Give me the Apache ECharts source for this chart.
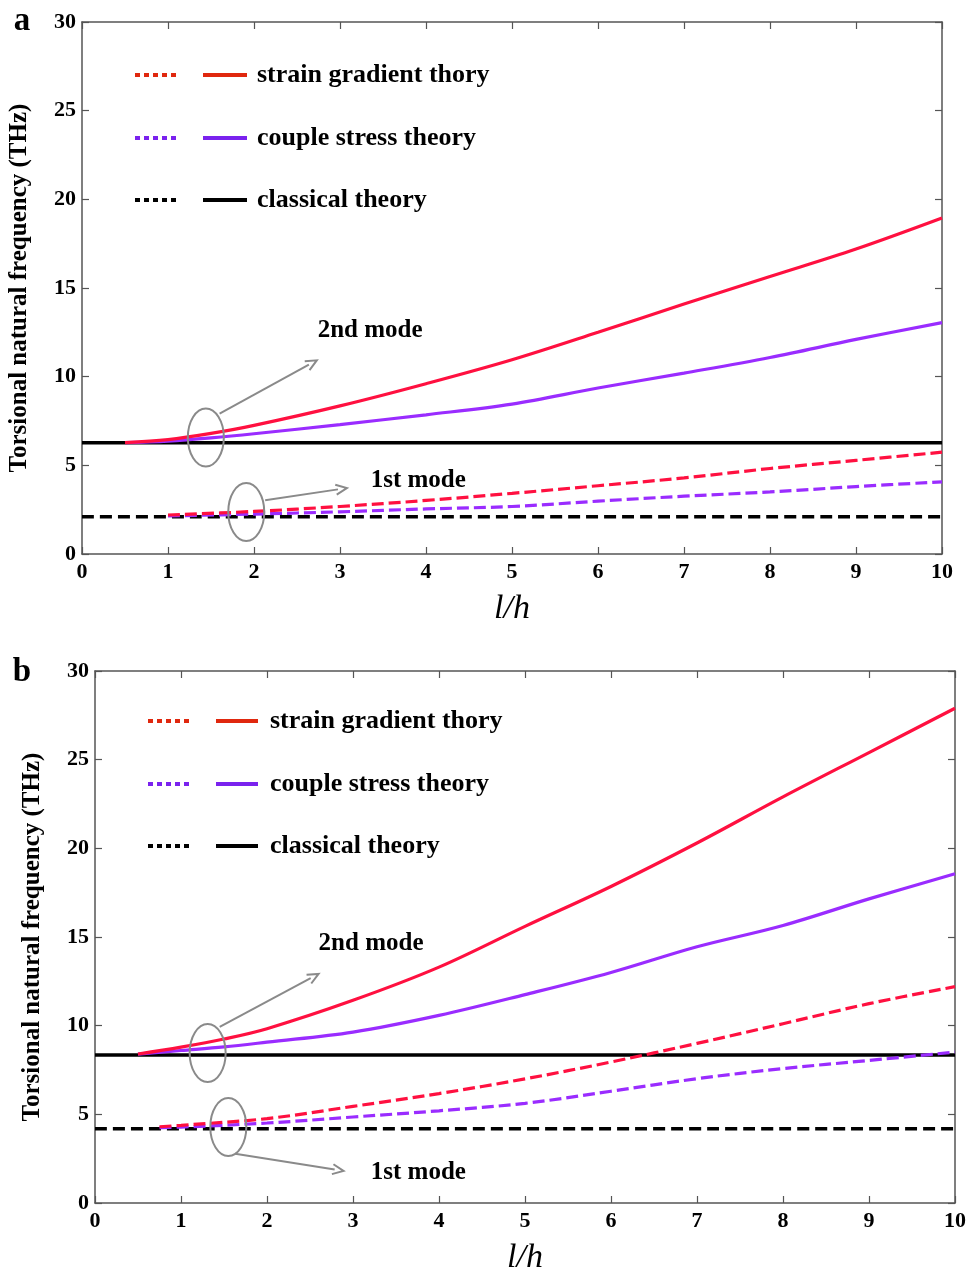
<!DOCTYPE html>
<html>
<head>
<meta charset="utf-8">
<script src="https://cdn.jsdelivr.net/npm/echarts@6/dist/echarts.min.js"></script>
<style>
  html, body { margin: 0; padding: 0; background: #fff; }
  #chart { width: 973px; height: 1267px; }
</style>
</head>
<body>
<div id="chart"></div>
<script>
// ---------------- DATA ----------------
// Panel a
const xA2 = [0.5, 1, 1.5, 2, 3, 4, 5, 6, 7, 8, 9, 10];
const sgA2 = [6.28, 6.45, 6.8, 7.25, 8.35, 9.6, 10.95, 12.5, 14.1, 15.65, 17.2, 18.95];
const csA2 = [6.28, 6.37, 6.55, 6.78, 7.3, 7.85, 8.45, 9.36, 10.2, 11.08, 12.1, 13.05];
const xA1 = [1, 2, 3, 4, 5, 6, 7, 8, 9, 10];
const sgA1 = [2.2, 2.4, 2.68, 3.02, 3.42, 3.85, 4.29, 4.82, 5.28, 5.74];
const csA1 = [2.15, 2.25, 2.38, 2.54, 2.68, 2.98, 3.26, 3.5, 3.8, 4.07];
const clA = [6.28, 2.1];      // classical: 2nd mode, 1st mode
// Panel b
const xB2 = [0.5, 1, 1.5, 2, 3, 4, 5, 6, 7, 8, 9, 10];
const sgB2 = [8.4, 8.79, 9.25, 9.83, 11.43, 13.3, 15.6, 17.85, 20.3, 22.9, 25.4, 27.9];
const csB2 = [8.4, 8.6, 8.8, 9.07, 9.64, 10.58, 11.75, 13.0, 14.45, 15.65, 17.15, 18.57];
const xB1 = [0.75, 1, 2, 3, 4, 5, 6, 7, 8, 9, 10];
const sgB1 = [4.3, 4.38, 4.76, 5.45, 6.17, 7.0, 7.95, 9.0, 10.11, 11.24, 12.2];
const csB1 = [4.25, 4.28, 4.51, 4.85, 5.2, 5.62, 6.3, 7.01, 7.58, 8.04, 8.51];
const clB = [8.35, 4.19];
const xRange = [0, 10];
// Axis ticks
const xTicks = [0, 1, 2, 3, 4, 5, 6, 7, 8, 9, 10];
const yTicks = [0, 5, 10, 15, 20, 25, 30];
// Texts
const legendNames = ['strain gradient thory', 'couple stress theory', 'classical theory'];
const yName = 'Torsional natural frequency (THz)';
const xName = 'l/h';
const panelLabels = ['a', 'b'];
// Annotations (data coordinates)
const annotations = [
  { grid: 0, ellipse: [1.44, 6.57], from: [1.60, 7.91], to: [2.73, 10.92], text: '2nd mode', at: [3.35, 12.6] },
  { grid: 0, ellipse: [1.91, 2.37], from: [2.13, 3.03], to: [3.08, 3.72], text: '1st mode', at: [3.91, 4.15] },
  { grid: 1, ellipse: [1.31, 8.46], from: [1.45, 9.93], to: [2.60, 12.92], text: '2nd mode', at: [3.21, 14.65] },
  { grid: 1, ellipse: [1.55, 4.29], from: [1.63, 2.78], to: [2.89, 1.81], text: '1st mode', at: [3.76, 1.73] }
];

// ---------------- STYLE ----------------
const FONT = '"Liberation Serif", "Times New Roman", serif';
const RED = '#ff1040', PURPLE = '#9a2cff', BLACK = '#000000';
const LRED = '#e0280e', LPURPLE = '#7a22ee';
const AXIS_COLOR = '#555555';

const zip = (xs, ys) => xs.map((x, i) => [x, ys[i]]);

const chart = echarts.init(document.getElementById('chart'), null, { renderer: 'canvas' });

const grids = [
  { left: 82, top: 22, width: 860, height: 532, outerBoundsMode: 'none', containLabel: false },
  { left: 95, top: 671, width: 860, height: 532, outerBoundsMode: 'none', containLabel: false }
];

function xAxes(gi) {
  const base = {
    type: 'value', gridIndex: gi, min: xRange[0], max: xRange[1], interval: 1,
    splitLine: { show: false },
    axisLine: { show: true, onZero: false, lineStyle: { color: AXIS_COLOR, width: 1.5 } },
    axisTick: { show: true, inside: true, length: 7, lineStyle: { color: AXIS_COLOR, width: 1.2 } }
  };
  return [
    Object.assign({}, base, {
      position: 'bottom',
      axisLabel: { show: true, color: '#000', fontFamily: FONT, fontWeight: 'bold', fontSize: 22, margin: 7,
        formatter: v => (xTicks.indexOf(v) >= 0 ? String(v) : '') },
      name: xName, nameLocation: 'middle', nameGap: 38,
      nameTextStyle: { fontFamily: FONT, fontStyle: 'italic', fontSize: 34, color: '#000' }
    }),
    Object.assign({}, base, { position: 'top', axisLabel: { show: false } })
  ];
}
function yAxes(gi) {
  const base = {
    type: 'value', gridIndex: gi, min: 0, max: 30, interval: 5,
    splitLine: { show: false },
    axisLine: { show: true, onZero: false, lineStyle: { color: AXIS_COLOR, width: 1.5 } },
    axisTick: { show: true, inside: true, length: 7, lineStyle: { color: AXIS_COLOR, width: 1.2 } }
  };
  return [
    Object.assign({}, base, {
      position: 'left',
      axisLabel: { show: true, color: '#000', fontFamily: FONT, fontWeight: 'bold', fontSize: 22, margin: 6,
        formatter: v => (yTicks.indexOf(v) >= 0 ? String(v) : '') },
      name: yName, nameLocation: 'middle', nameGap: 50, nameRotate: 90,
      nameTextStyle: { fontFamily: FONT, fontWeight: 'bold', fontSize: 25, color: '#000' }
    }),
    Object.assign({}, base, { position: 'right', axisLabel: { show: false } })
  ];
}

function lineSeries(name, data, color, dashed, width, xi, yi, z) {
  return {
    type: 'line', name, data, xAxisIndex: xi, yAxisIndex: yi,
    showSymbol: false, symbol: 'none', smooth: 0.35, z: z,
    lineStyle: { color, width, type: dashed ? (color === BLACK ? [12, 6] : [12, 5]) : 'solid', cap: 'butt' },
    silent: true, animation: false
  };
}

function panelSeries(gi, x2, sg2, cs2, x1, sg1, cs1, cl) {
  const xi = gi * 2, yi = gi * 2;
  return [
    lineSeries('cl2', zip(xRange, [cl[0], cl[0]]), BLACK, false, 3.5, xi, yi, 2),
    lineSeries('cl1', zip(xRange, [cl[1], cl[1]]), BLACK, true, 3.5, xi, yi, 2),
    lineSeries('cs2', zip(x2, cs2), PURPLE, false, 3.2, xi, yi, 3),
    lineSeries('cs1', zip(x1, cs1), PURPLE, true, 3.2, xi, yi, 3),
    lineSeries('sg2', zip(x2, sg2), RED, false, 3.2, xi, yi, 4),
    lineSeries('sg1', zip(x1, sg1), RED, true, 3.2, xi, yi, 4)
  ];
}

chart.setOption({
  animation: false,
  backgroundColor: '#ffffff',
  grid: grids,
  xAxis: [...xAxes(0), ...xAxes(1)],
  yAxis: [...yAxes(0), ...yAxes(1)],
  series: [
    ...panelSeries(0, xA2, sgA2, csA2, xA1, sgA1, csA1, clA),
    ...panelSeries(1, xB2, sgB2, csB2, xB1, sgB1, csB1, clB)
  ]
});

// ---------------- GRAPHICS: legends, panel labels, annotations ----------------
const graphics = [];
const legendLayouts = [
  { rows: [75, 138, 200], dot: [135, 178], solid: [203, 247], text: 257 },
  { rows: [721, 784, 846], dot: [148, 190], solid: [216, 258], text: 270 }
];
const legendColors = [LRED, LPURPLE, BLACK];
legendLayouts.forEach(L => {
  L.rows.forEach((y, i) => {
    graphics.push({ type: 'line', shape: { x1: L.dot[0], y1: y, x2: L.dot[1], y2: y },
      style: { stroke: legendColors[i], lineWidth: 4, lineDash: [5, 4] }, silent: true });
    graphics.push({ type: 'line', shape: { x1: L.solid[0], y1: y, x2: L.solid[1], y2: y },
      style: { stroke: legendColors[i], lineWidth: 4 }, silent: true });
    graphics.push({ type: 'text', x: L.text, y: y,
      style: { text: legendNames[i], font: 'bold 26px ' + FONT, fill: '#000', textAlign: 'left', textVerticalAlign: 'middle' }, silent: true });
  });
});
const labelPos = [[22, 21], [22, 672]];
panelLabels.forEach((t, i) => {
  graphics.push({ type: 'text', x: labelPos[i][0], y: labelPos[i][1],
    style: { text: t, font: 'bold 33px ' + FONT, fill: '#000', textAlign: 'center', textVerticalAlign: 'middle' }, silent: true });
});

const GREY = '#8a8a8a';
annotations.forEach(a => {
  const c = chart.convertToPixel({ gridIndex: a.grid }, a.ellipse);
  const p0 = chart.convertToPixel({ gridIndex: a.grid }, a.from);
  const p1 = chart.convertToPixel({ gridIndex: a.grid }, a.to);
  const pt = chart.convertToPixel({ gridIndex: a.grid }, a.at);
  graphics.push({ type: 'ellipse', shape: { cx: c[0], cy: c[1], rx: 18, ry: 29 },
    style: { fill: 'none', stroke: GREY, lineWidth: 2 }, silent: true, z: 10 });
  const dx = p1[0] - p0[0], dy = p1[1] - p0[1];
  const len = Math.sqrt(dx * dx + dy * dy), ux = dx / len, uy = dy / len;
  const hl = 11, hw = 5;
  const bx = p1[0] - ux * hl, by = p1[1] - uy * hl;
  graphics.push({ type: 'line', shape: { x1: p0[0], y1: p0[1], x2: bx + ux * 2, y2: by + uy * 2 },
    style: { stroke: GREY, lineWidth: 2 }, silent: true, z: 10 });
  graphics.push({ type: 'polyline', shape: { points: [[bx - uy * hw, by + ux * hw], [p1[0], p1[1]], [bx + uy * hw, by - ux * hw]] },
    style: { stroke: GREY, lineWidth: 2, fill: 'none' }, silent: true, z: 10 });
  graphics.push({ type: 'text', x: pt[0], y: pt[1],
    style: { text: a.text, font: 'bold 25px ' + FONT, fill: '#000', textAlign: 'center', textVerticalAlign: 'middle' }, silent: true, z: 10 });
});

chart.setOption({ graphic: graphics });
</script>
</body>
</html>
